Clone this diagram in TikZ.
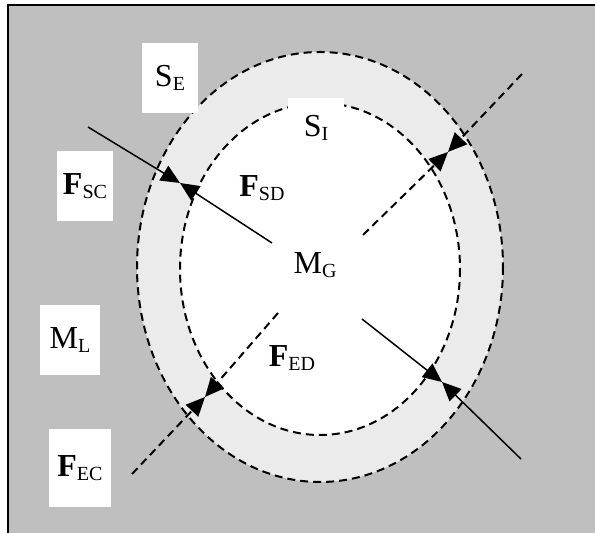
\documentclass[tikz,border=0pt]{standalone}
\usepackage{fontspec}
\setmainfont{Liberation Serif}
\usetikzlibrary{arrows.meta}

\newcommand{\sublbl}[2]{#1\raisebox{-2pt}{\fontsize{10}{10}\selectfont #2}}

\begin{document}
\begin{tikzpicture}[
  x=0.5pt, y=-0.5pt,
  font=\fontsize{16}{18}\selectfont,
  ring/.style   = {dashed, dash pattern=on 4pt off 2.5pt, line width=1pt},
  force/.style  = {-{Triangle[length=9.5pt,width=8.5pt]}, line width=0.75pt},
  dforce/.style = {force, dash pattern=on 4pt off 2.5pt, line width=1pt},
  lbox/.style   = {fill=white, inner sep=0pt, minimum width=28pt,
                   minimum height=35pt},
  ltxt/.style   = {fill=white, inner sep=1pt}
]
\useasboundingbox (0,0) rectangle (595,533);
\clip (0,0) rectangle (595,533);
%% -- Frame and background --
\draw[line width=1pt, fill=black!25] (8,5) rectangle (610,545);
%% -- Layers --
\fill[black!8] (320,267) ellipse [x radius=183, y radius=215];
\fill[white]   (320,269) ellipse [x radius=140, y radius=166];
\draw[ring]    (320,267) ellipse [x radius=183, y radius=215];
\draw[ring]    (320,269) ellipse [x radius=140, y radius=166];
%% -- Force end points --
\coordinate (scOut)  at (88,127);
\coordinate (scMeet) at (180,183);
\coordinate (sdIn)   at (272,243);
\coordinate (neOut)  at (522,74);
\coordinate (neMeet) at (448,152);
\coordinate (neIn)   at (363,235);
\coordinate (swOut)  at (132,474);
\coordinate (swMeet) at (205,397);
\coordinate (swIn)   at (278,313);
\coordinate (seOut)  at (521,459);
\coordinate (seMeet) at (442,382);
\coordinate (seIn)   at (362,319);
%% -- Forces --
\draw[force]  (scOut) -- (scMeet);
\draw[force]  (sdIn)  -- (scMeet);
\draw[dforce] (neOut) -- (neMeet);
\draw[dforce] (neIn)  -- (neMeet);
\draw[dforce] (swOut) -- (swMeet);
\draw[dforce] (swIn)  -- (swMeet);
\draw[force]  (seOut) -- (seMeet);
\draw[force]  (seIn)  -- (seMeet);
%% -- Labels --
\node[lbox] (se) at (170,78) {\sublbl{S}{E}};
\node[lbox, minimum height=30pt] (si) at (316,128) {\sublbl{S}{I}};
\node[lbox] (fsc) at (85,186) {\sublbl{\textbf{F}}{SC}};
\node[lbox, minimum width=30pt] (ml) at (70,340) {\sublbl{M}{L}};
\node[lbox, minimum width=31pt, minimum height=39pt] (fec) at (80,468)
     {\sublbl{\textbf{F}}{EC}};
\node[ltxt] (fsd) at (262,188) {\sublbl{\textbf{F}}{SD}};
\node[ltxt] (mg)  at (315,265) {\sublbl{M}{G}};
\node[ltxt] (fed) at (292,358) {\sublbl{\textbf{F}}{ED}};
\end{tikzpicture}
\end{document}
